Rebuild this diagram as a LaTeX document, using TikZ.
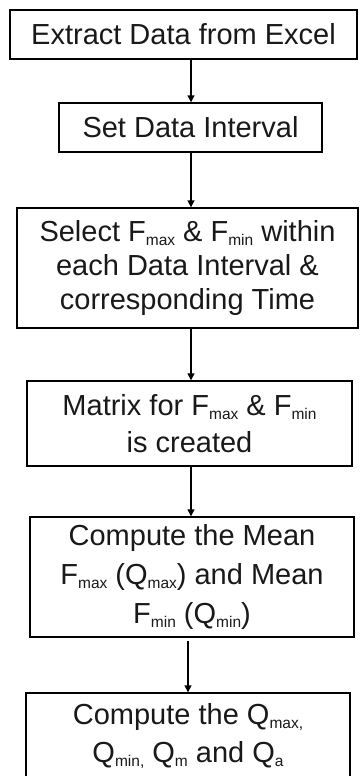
\documentclass[tikz,border=0pt]{standalone}
\usepackage{fontspec}
\setmainfont{Liberation Sans}
\usetikzlibrary{arrows.meta}
\newcommand{\sbx}[1]{\raisebox{-4pt}{\fontsize{15.5}{15.5}\selectfont #1}}
\tikzset{
  box/.style={draw=black, line width=1.4pt, rectangle, inner sep=0pt, align=center,
    font=\fontsize{29}{34}\selectfont, text=black!90},
  arr/.style={draw=black, line width=1.4pt, -{Triangle[length=7pt,width=7pt]}}
}
\begin{document}
\begin{tikzpicture}[x=1pt,y=-1pt]
\useasboundingbox (0,0) rectangle (359,776);
\clip (0,0) rectangle (359,776);
\fill[white] (0,0) rectangle (359,776);
\node[box, minimum width=347pt, minimum height=49pt] (b1) at (183.5,34.5) {Extract Data from Excel};
\node[box, minimum width=263pt, minimum height=49pt] (b2) at (190.5,127.5) {Set Data Interval};
\node[box, minimum width=341pt, minimum height=120pt] (b3) at (187.5,268) {Select F\sbx{max} \& F\sbx{min} within\\each Data Interval \&\\corresponding Time};
\node[box, minimum width=325pt, minimum height=85pt] (b4) at (189.5,423.5) {Matrix for F\sbx{max} \& F\sbx{min}\\[3pt]is created};
\node[box, minimum width=324pt, minimum height=120pt] (b5) at (192,577) {Compute the Mean\\[5pt]F\sbx{max} (Q\sbx{max}) and Mean\\[5pt]F\sbx{min} (Q\sbx{min})};
\node[box, minimum width=324pt, minimum height=85pt] (b6) at (188,735.5) {Compute the Q\sbx{max,}\\[4pt]Q\sbx{min,} Q\sbx{m} and Q\sbx{a}};
\coordinate (ax) at (191,0);
\coordinate (ay) at (188,0);
\draw[arr] (b1.south -| ax) -- (b2.north -| ax);
\draw[arr] (b2.south -| ax) -- (b3.north -| ax);
\draw[arr] (b3.south -| ax) -- (b4.north -| ax);
\draw[arr] (b4.south -| ax) -- (b5.north -| ax);
\draw[arr] ([yshift=-3pt]b5.south -| ay) -- (b6.north -| ay);
\end{tikzpicture}
\end{document}
